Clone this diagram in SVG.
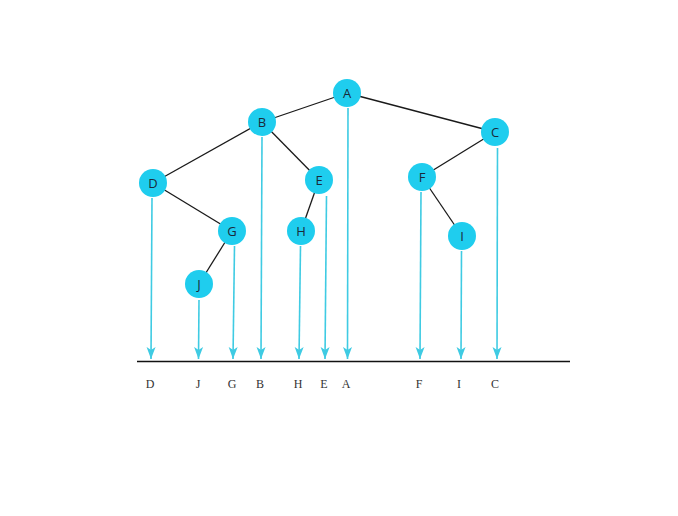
<svg xmlns="http://www.w3.org/2000/svg" width="678" height="516" viewBox="0 0 678 516">
<style>
.edge{stroke:#1a1a1a;stroke-width:1.3;fill:none}
.proj{stroke:#3fcbe3;stroke-width:1.6;fill:none;marker-end:url(#ah)}
.node circle{fill:#1fcdee}
.node text{font-family:"Open Sans","Noto Sans",sans-serif;font-size:13px;fill:#1a2a3a;text-anchor:middle;dominant-baseline:central}
.lbl{font-family:"Liberation Serif","DejaVu Serif",serif;font-size:12px;fill:#333;text-anchor:middle}
</style>
<defs>
<marker id="ah" viewBox="0 0 12 10" refX="12" refY="5" markerWidth="12" markerHeight="10" markerUnits="userSpaceOnUse" orient="auto">
<path d="M0,0.5 L12,5 L0,9.5 L3,5 Z" fill="#3fcbe3"/>
</marker>
</defs>
<rect width="678" height="516" fill="#fff"/>
<g id="connectors">
<line class="edge" x1="347" y1="93" x2="262" y2="122"/>
<line class="edge" x1="347" y1="93" x2="495" y2="132"/>
<line class="edge" x1="262" y1="122" x2="153" y2="183"/>
<line class="edge" x1="262" y1="122" x2="319" y2="180"/>
<line class="edge" x1="153" y1="183" x2="232" y2="231"/>
<line class="edge" x1="319" y1="180" x2="301" y2="231"/>
<line class="edge" x1="232" y1="231" x2="199" y2="284"/>
<line class="edge" x1="495" y1="132" x2="422" y2="177"/>
<line class="edge" x1="422" y1="177" x2="462" y2="236"/>
<line x1="137" y1="361.5" x2="570" y2="361.5" stroke="#111" stroke-width="1.3"/>
<path class="proj" d="M152,198 L151,359"/>
<path class="proj" d="M199,300 L198.5,359"/>
<path class="proj" d="M234.5,246 L233,359"/>
<path class="proj" d="M262,137 L261,359"/>
<path class="proj" d="M300.5,246 L299,359"/>
<path class="proj" d="M326.5,196 L325,359"/>
<path class="proj" d="M348,108 L347.5,359"/>
<path class="proj" d="M421,192 L420,359"/>
<path class="proj" d="M461.5,251 L461,359"/>
<path class="proj" d="M497.5,148 L497,359"/>
</g>
<g id="A" class="node"><circle cx="347" cy="93" r="14"/><text x="347" y="93">A</text></g>
<g id="B" class="node"><circle cx="262" cy="122" r="14"/><text x="262" y="122">B</text></g>
<g id="C" class="node"><circle cx="495" cy="132" r="14"/><text x="495" y="132">C</text></g>
<g id="D" class="node"><circle cx="153" cy="183" r="14"/><text x="153" y="183">D</text></g>
<g id="E" class="node"><circle cx="319" cy="180" r="14"/><text x="319" y="180">E</text></g>
<g id="F" class="node"><circle cx="422" cy="177" r="14"/><text x="422" y="177">F</text></g>
<g id="G" class="node"><circle cx="232" cy="231" r="14"/><text x="232" y="231">G</text></g>
<g id="H" class="node"><circle cx="301" cy="231" r="14"/><text x="301" y="231">H</text></g>
<g id="I" class="node"><circle cx="462" cy="236" r="14"/><text x="462" y="236">I</text></g>
<g id="J" class="node"><circle cx="199" cy="284" r="14"/><text x="199" y="284">J</text></g>
<g id="labels">
<text class="lbl" x="150" y="388">D</text>
<text class="lbl" x="198" y="388">J</text>
<text class="lbl" x="232" y="388">G</text>
<text class="lbl" x="260" y="388">B</text>
<text class="lbl" x="298" y="388">H</text>
<text class="lbl" x="324" y="388">E</text>
<text class="lbl" x="346" y="388">A</text>
<text class="lbl" x="419" y="388">F</text>
<text class="lbl" x="459" y="388">I</text>
<text class="lbl" x="495" y="388">C</text>
</g>
</svg>
